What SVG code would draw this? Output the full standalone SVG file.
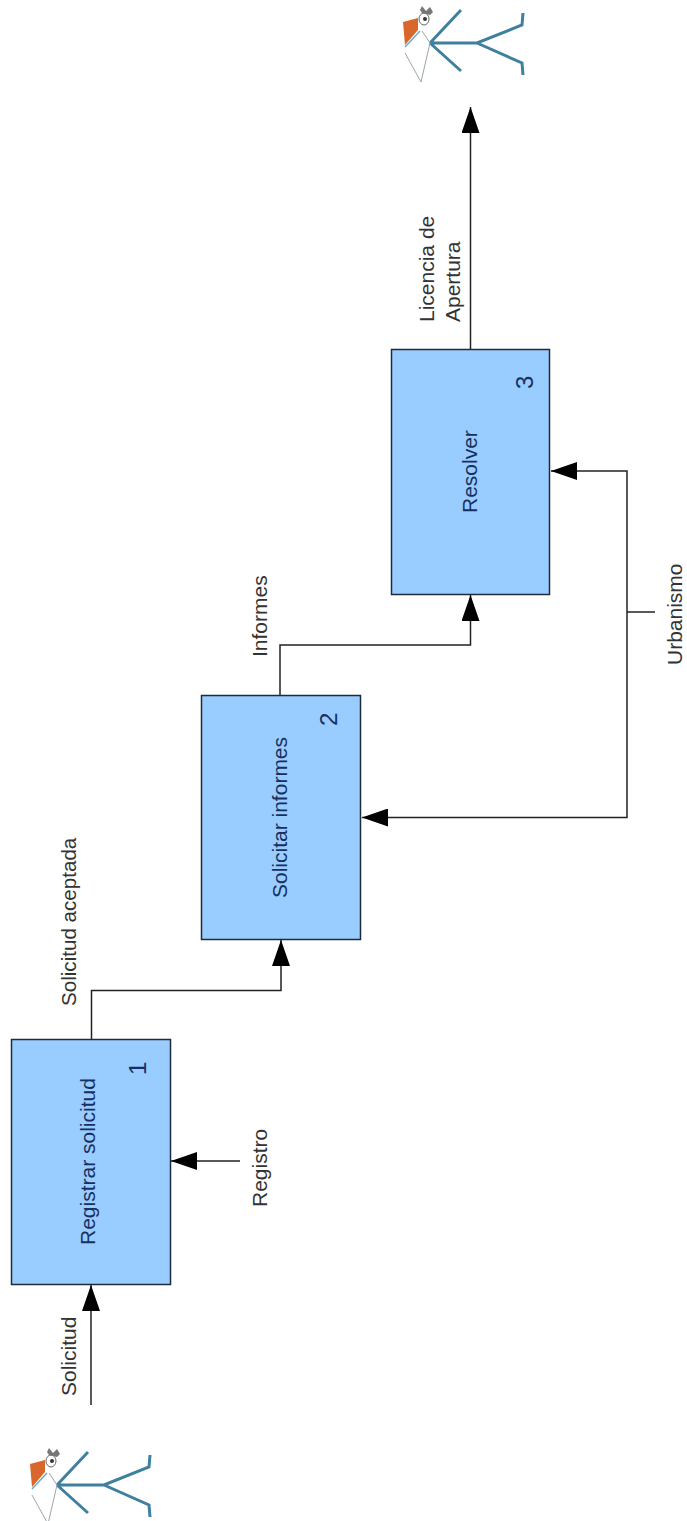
<svg xmlns="http://www.w3.org/2000/svg" width="687" height="1521" viewBox="0 0 687 1521">
<style>
.box{fill:#99ccff;stroke:#1d2b3a;stroke-width:1.5}
.con{fill:none;stroke:#222;stroke-width:1.5}
text{font-family:"Liberation Sans",Arial,sans-serif;font-size:21px}
.lbl{fill:#333}
.in{fill:#17305f}
.num{font-size:24px}
.limb{fill:none;stroke:#3f7f9f;stroke-width:3}
</style>
<defs>
<marker id="arrow" markerUnits="userSpaceOnUse" markerWidth="27" markerHeight="18" refX="26" refY="9" orient="auto">
<path d="M0 0L26 9L0 18Z" fill="#000"/>
</marker>
<g id="actor">
<path d="M0 0H47L92-18L93-30M47 0L92 20L93 32M0 0L31-33M0 0L31 28" class="limb"/>
<path d="M-25 10L-9 39L0 0L-8-12" fill="none" stroke="#9aa5aa" stroke-width="1"/>
<path d="M-27-21L-12-25L-12-13L-25 2Z" fill="#d9662a"/>
<path d="M-25 4L-10-12" fill="none" stroke="#6fa8d0" stroke-width="1.5"/>
<ellipse cx="-6" cy="-24" rx="5" ry="6" fill="#fff" stroke="#666" stroke-width="1"/>
<circle cx="-5" cy="-24" r="2" fill="#333"/>
<path d="M-10-33L-8-37L-4-32L0-36L3-31L0-28L-8-30Z" fill="#777"/>
</g>
</defs>
<g id="connectors">
<path class="con" d="M91 1405V1285" marker-end="url(#arrow)"/>
<path class="con" d="M240 1161H171" marker-end="url(#arrow)"/>
<path class="con" d="M91.500 1039V990.500H281V940" marker-end="url(#arrow)"/>
<path class="con" d="M280 695V645H470.500V595" marker-end="url(#arrow)"/>
<path class="con" d="M470.500 349V107" marker-end="url(#arrow)"/>
<path class="con" d="M627 612V471H551" marker-end="url(#arrow)"/>
<path class="con" d="M627 612V817.500H362" marker-end="url(#arrow)"/>
<path class="con" d="M627 612H655"/>
</g>
<g id="node-1">
<rect class="box" x="11.500" y="1039.500" width="159" height="245"/>
<text class="in" transform="translate(95 1245) rotate(-90)">Registrar solicitud</text>
<text class="in num" transform="translate(146 1075) rotate(-90)">1</text>
</g>
<g id="node-2">
<rect class="box" x="201.500" y="695.500" width="159" height="244"/>
<text class="in" transform="translate(287 898) rotate(-90)">Solicitar informes</text>
<text class="in num" transform="translate(337 726) rotate(-90)">2</text>
</g>
<g id="node-3">
<rect class="box" x="391.500" y="349.500" width="158" height="245"/>
<text class="in" transform="translate(477 513) rotate(-90)">Resolver</text>
<text class="in num" transform="translate(533 389) rotate(-90)">3</text>
</g>
<g id="actor-1"><use href="#actor" x="430" y="43"/></g>
<g id="actor-2"><use href="#actor" x="57" y="1485"/></g>
<g id="labels">
<text class="lbl" transform="translate(76 1396) rotate(-90)">Solicitud</text>
<text class="lbl" transform="translate(267 1207) rotate(-90)">Registro</text>
<text class="lbl" transform="translate(76 1006) rotate(-90)" style="font-size:20.600px">Solicitud aceptada</text>
<text class="lbl" transform="translate(267 657) rotate(-90)">Informes</text>
<text class="lbl" transform="translate(434 322) rotate(-90)">Licencia de</text>
<text class="lbl" transform="translate(460 322) rotate(-90)">Apertura</text>
<text class="lbl" transform="translate(682 665) rotate(-90)">Urbanismo</text>
</g>
</svg>
